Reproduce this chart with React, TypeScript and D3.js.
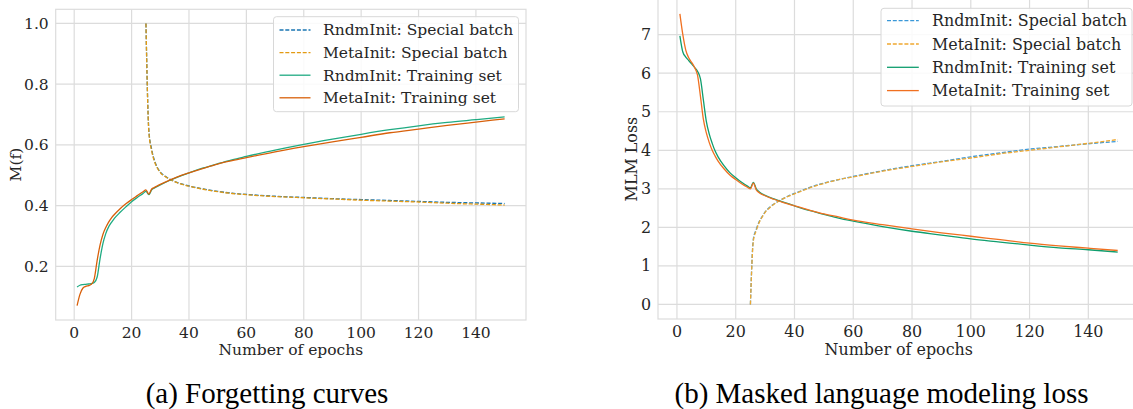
import React from "react";
import * as d3 from "d3";

// ---------- data ----------
const trainEpochs = [1,2,3,4,5,6,7,8,9,10,11,12,13,14,16,18,20,22,24,25,26,27,28,30,33,36,40,45,50,55,60,70,80,90,100,110,120,130,140,150];
const specialEpochs = [25,26,27,28,29,30,32,34,36,38,40,45,50,55,60,70,80,90,100,110,120,130,140,150];

// (a) Forgetting curves, M(f)
const forgetRndmTrain = [0.132,0.138,0.14,0.141,0.142,0.143,0.147,0.165,0.225,0.275,0.308,0.33,0.345,0.358,0.378,0.396,0.413,0.427,0.44,0.447,0.436,0.452,0.458,0.468,0.482,0.494,0.508,0.524,0.538,0.551,0.562,0.583,0.602,0.619,0.635,0.65,0.663,0.674,0.683,0.692];
const forgetMetaTrain = [0.071,0.108,0.128,0.134,0.137,0.141,0.16,0.22,0.27,0.305,0.328,0.346,0.36,0.371,0.39,0.406,0.42,0.433,0.446,0.452,0.438,0.455,0.46,0.47,0.483,0.495,0.508,0.523,0.537,0.548,0.558,0.577,0.594,0.61,0.625,0.64,0.652,0.664,0.675,0.686];
const forgetRndmSpecial = [1.0,0.65,0.585,0.548,0.525,0.511,0.495,0.484,0.476,0.47,0.465,0.455,0.447,0.441,0.437,0.431,0.427,0.423,0.42,0.417,0.414,0.411,0.409,0.407];
const forgetMetaSpecial = [1.0,0.645,0.58,0.545,0.523,0.509,0.494,0.483,0.475,0.469,0.464,0.454,0.446,0.44,0.436,0.43,0.426,0.422,0.418,0.415,0.412,0.408,0.405,0.402];

// (b) MLM loss
const mlmRndmTrain = [6.97,6.55,6.42,6.33,6.24,6.15,6.05,5.85,5.3,4.75,4.42,4.18,3.98,3.83,3.6,3.42,3.29,3.17,3.07,3.03,3.17,3.0,2.92,2.83,2.74,2.66,2.56,2.44,2.34,2.24,2.16,2.02,1.9,1.8,1.7,1.62,1.54,1.47,1.42,1.36];
const mlmMetaTrain = [7.54,7.0,6.6,6.4,6.28,6.15,5.95,5.4,4.8,4.45,4.2,4.0,3.85,3.72,3.52,3.36,3.24,3.13,3.04,3.0,3.15,2.97,2.9,2.82,2.73,2.65,2.56,2.45,2.35,2.27,2.19,2.07,1.96,1.86,1.77,1.68,1.59,1.52,1.46,1.4];
const mlmRndmSpecial = [0,1.7,1.95,2.15,2.28,2.4,2.55,2.66,2.74,2.82,2.88,3.03,3.15,3.24,3.32,3.47,3.6,3.71,3.83,3.93,4.03,4.1,4.17,4.23];
const mlmMetaSpecial = [0,1.65,1.92,2.13,2.27,2.39,2.54,2.65,2.74,2.81,2.87,3.02,3.14,3.24,3.31,3.46,3.58,3.7,3.8,3.91,4.0,4.09,4.18,4.28];

const xTicks = [0,20,40,60,80,100,120,140];
const forgetYTicks = [0.2,0.4,0.6,0.8,1.0];
const mlmYTicks = [0,1,2,3,4,5,6,7];

const legendLabels = ["RndmInit: Special batch","MetaInit: Special batch","RndmInit: Training set","MetaInit: Training set"];

const FONT = "'DejaVu Serif', serif";
const GRID = "#dcdcdc";
const TXT = "#262626";

type Series = { x: number[]; y: number[]; color: string; dashed: boolean };

function Panel(props: {
  xr: [number, number]; yr: [number, number]; ydom: [number, number];
  yTicks: number[]; yFmt: (v: number) => string; ylabel: string; ylabelX: number;
  series: Series[]; legend: { x: number; y: number; w: number; h: number; row0: number; rowH: number; fs: number; tx: number };
  caption: string; captionX: number; clipId: string; fs: number;
}) {
  const { xr, yr, ydom, yTicks, yFmt, ylabel, ylabelX, series, legend, caption, captionX, clipId, fs } = props;
  const x = d3.scaleLinear().domain([-6.45, 157.45]).range(xr);
  const y = d3.scaleLinear().domain(ydom).range(yr);
  const line = d3.line<[number, number]>().x(d => x(d[0])).y(d => y(d[1])).curve(d3.curveMonotoneX);
  const cx = (xr[0] + xr[1]) / 2;
  const cy = (yr[0] + yr[1]) / 2;
  return (
    <g>
      <defs>
        <clipPath id={clipId}><rect x={xr[0]} y={yr[1]} width={xr[1] - xr[0]} height={yr[0] - yr[1]} /></clipPath>
      </defs>
      {xTicks.map(t => (
        <line key={"gx" + t} x1={x(t)} x2={x(t)} y1={yr[0]} y2={yr[1]} stroke={GRID} strokeWidth={1.2} />
      ))}
      {yTicks.map(t => (
        <line key={"gy" + t} x1={xr[0]} x2={xr[1]} y1={y(t)} y2={y(t)} stroke={GRID} strokeWidth={1.2} />
      ))}
      <rect x={xr[0]} y={yr[1]} width={xr[1] - xr[0]} height={yr[0] - yr[1]} fill="none" stroke={GRID} strokeWidth={1.2} />
      <g clipPath={`url(#${clipId})`}>
        {series.map((s, i) => (
          <path key={i} d={line(s.x.map((e, j) => [e, s.y[j]] as [number, number])) || ""} fill="none"
            stroke={s.color} strokeWidth={1.3} strokeDasharray={s.dashed ? "4,1.8" : undefined} />
        ))}
      </g>
      {xTicks.map(t => (
        <text key={"tx" + t} x={x(t)} y={yr[0] + 12.7} dy="0.35em" textAnchor="middle" fontFamily={FONT} fontSize={fs} fill={TXT}>{t}</text>
      ))}
      {yTicks.map(t => (
        <text key={"ty" + t} x={xr[0] - 7} y={y(t)} dy="0.35em" textAnchor="end" fontFamily={FONT} fontSize={fs} fill={TXT}>{yFmt(t)}</text>
      ))}
      <text x={cx} y={yr[0] + 30} dy="0.35em" textAnchor="middle" fontFamily={FONT} fontSize={fs} fill={TXT}>Number of epochs</text>
      <text transform={`translate(${ylabelX},${cy}) rotate(-90)`} textAnchor="middle" dy="0.35em" fontFamily={FONT} fontSize={fs} fill={TXT}>{ylabel}</text>
      <rect x={legend.x} y={legend.y} width={legend.w} height={legend.h} rx={3} fill="white" fillOpacity={0.85} stroke="#d8d8d8" strokeWidth={1} />
      {series.map((s, i) => {
        const ry = legend.y + legend.row0 + i * legend.rowH;
        return (
          <g key={"lg" + i}>
            <line x1={legend.x + 6} x2={legend.x + 6 + 2 * legend.fs} y1={ry} y2={ry} stroke={s.color} strokeWidth={1.3} strokeDasharray={s.dashed ? "4,1.8" : undefined} />
            <text x={legend.x + legend.tx} y={ry} dy="0.35em" fontFamily={FONT} fontSize={legend.fs} fill={TXT}>{legendLabels[i]}</text>
          </g>
        );
      })}
      <text x={captionX} y={403} textAnchor="middle" fontFamily="'Liberation Serif', 'Times New Roman', serif" fontSize={29} fill="#000">{caption}</text>
    </g>
  );
}

export default function App() {
  const left: Series[] = [
    { x: specialEpochs, y: forgetRndmSpecial, color: "#1a76b3", dashed: true },
    { x: specialEpochs, y: forgetMetaSpecial, color: "#e39a12", dashed: true },
    { x: trainEpochs, y: forgetRndmTrain, color: "#1fab82", dashed: false },
    { x: trainEpochs, y: forgetMetaTrain, color: "#d8600a", dashed: false },
  ];
  const right: Series[] = [
    { x: specialEpochs, y: mlmRndmSpecial, color: "#3a98d8", dashed: true },
    { x: specialEpochs, y: mlmMetaSpecial, color: "#efa830", dashed: true },
    { x: trainEpochs, y: mlmRndmTrain, color: "#0f9e6e", dashed: false },
    { x: trainEpochs, y: mlmMetaTrain, color: "#f07020", dashed: false },
  ];
  return (
    <svg width={1133} height={409} style={{ position: "absolute", left: 0, top: 0, background: "white" }}>
      <Panel xr={[55.7, 526]} yr={[320, 9.3]} ydom={[0.0235, 1.0465]} yTicks={forgetYTicks}
        yFmt={v => v.toFixed(1)} ylabel="M(f)" ylabelX={16} series={left} fs={15.5}
        legend={{ x: 273.5, y: 16.7, w: 245, h: 95, row0: 13.3, rowH: 22.6, fs: 15.5, tx: 49.5 }}
        caption="(a) Forgetting curves" captionX={267} clipId="clipA" />
      <Panel xr={[658, 1139.6]} yr={[319, -0.8]} ydom={[-0.377, 7.92]} yTicks={mlmYTicks}
        yFmt={v => String(v)} ylabel="MLM Loss" ylabelX={631} series={right} fs={15.9}
        legend={{ x: 881, y: 8.3, w: 251, h: 97.7, row0: 12.4, rowH: 23.3, fs: 15.9, tx: 51 }}
        caption="(b) Masked language modeling loss" captionX={881.5} clipId="clipB" />
    </svg>
  );
}
